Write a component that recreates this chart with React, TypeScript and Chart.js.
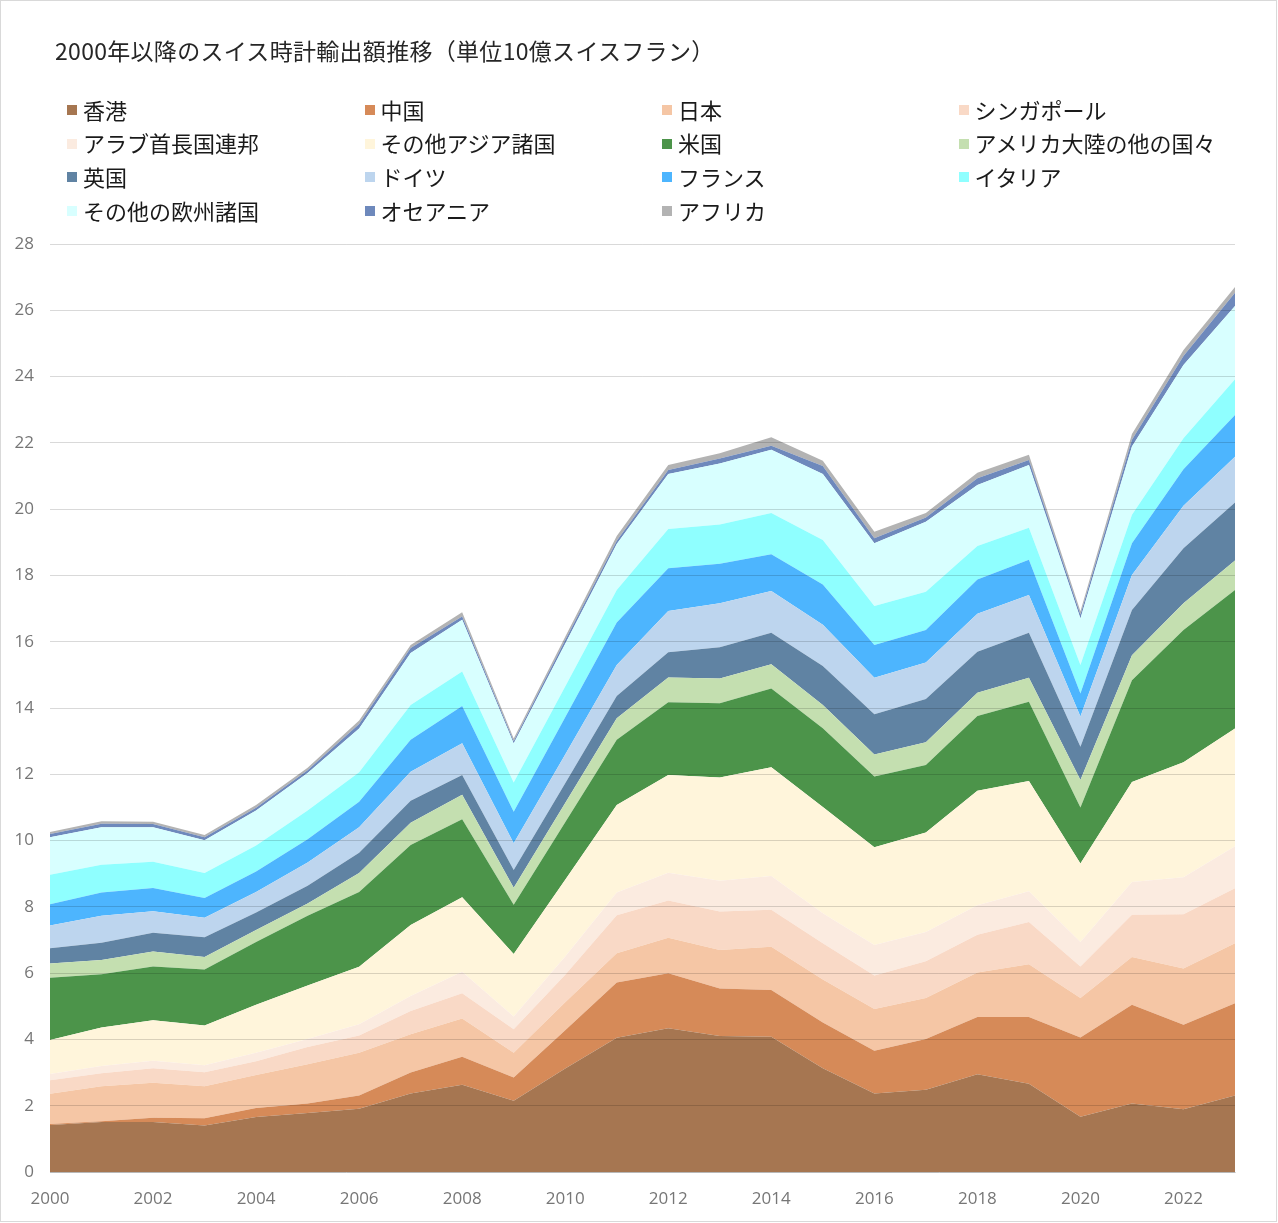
import React, { useEffect, useRef } from "react";
import { Chart, registerables } from "chart.js";

Chart.register(...registerables);

const chartTitle = "2000年以降のスイス時計輸出額推移（単位10億スイスフラン）";

const years = [
  "2000", "2001", "2002", "2003", "2004", "2005", "2006", "2007",
  "2008", "2009", "2010", "2011", "2012", "2013", "2014", "2015",
  "2016", "2017", "2018", "2019", "2020", "2021", "2022", "2023",
];

const xTickYears = ["2000", "2002", "2004", "2006", "2008", "2010", "2012", "2014", "2016", "2018", "2020", "2022"];

const seriesLabels = [
  "香港", "中国", "日本", "シンガポール",
  "アラブ首長国連邦", "その他アジア諸国", "米国", "アメリカ大陸の他の国々",
  "英国", "ドイツ", "フランス", "イタリア",
  "その他の欧州諸国", "オセアニア", "アフリカ",
];

const seriesColors = [
  "#A67651", "#D68A58", "#F5C6A5", "#F9D9C6",
  "#FBEBE0", "#FFF5DB", "#4C944A", "#C4DFB0",
  "#6083A3", "#BDD5EE", "#4DB5FE", "#8FFFFF",
  "#D8FFFF", "#6E89BC", "#B3B3B3",
];

const hongKong = [1.42, 1.51, 1.51, 1.40, 1.66, 1.78, 1.91, 2.37, 2.63, 2.15, 3.12, 4.05, 4.34, 4.10, 4.08, 3.13, 2.37, 2.48, 2.95, 2.66, 1.67, 2.07, 1.89, 2.31];
const china = [0.03, 0.02, 0.13, 0.22, 0.27, 0.29, 0.40, 0.63, 0.85, 0.70, 1.16, 1.67, 1.66, 1.44, 1.41, 1.38, 1.29, 1.53, 1.73, 2.02, 2.39, 2.98, 2.55, 2.78];
const japan = [0.91, 1.06, 1.05, 0.97, 1.00, 1.18, 1.29, 1.16, 1.15, 0.75, 0.84, 0.88, 1.07, 1.16, 1.31, 1.30, 1.26, 1.24, 1.34, 1.59, 1.19, 1.44, 1.70, 1.81];
const singapore = [0.41, 0.39, 0.44, 0.42, 0.41, 0.52, 0.52, 0.70, 0.76, 0.71, 0.83, 1.15, 1.12, 1.16, 1.11, 1.09, 1.01, 1.11, 1.14, 1.27, 0.95, 1.27, 1.64, 1.66];
const uae = [0.19, 0.22, 0.23, 0.21, 0.26, 0.24, 0.34, 0.45, 0.65, 0.38, 0.55, 0.68, 0.84, 0.93, 1.02, 0.91, 0.92, 0.88, 0.89, 0.93, 0.74, 0.99, 1.11, 1.27];
const otherAsia = [1.02, 1.16, 1.22, 1.20, 1.45, 1.62, 1.73, 2.14, 2.25, 1.89, 2.32, 2.64, 2.95, 3.11, 3.28, 3.20, 2.95, 3.00, 3.45, 3.33, 2.37, 3.02, 3.47, 3.55];
const usa = [1.88, 1.61, 1.62, 1.69, 1.89, 2.10, 2.26, 2.42, 2.35, 1.48, 1.73, 1.97, 2.19, 2.24, 2.38, 2.38, 2.13, 2.04, 2.26, 2.39, 1.69, 3.07, 3.99, 4.18];
const otherAmericas = [0.43, 0.43, 0.45, 0.38, 0.36, 0.37, 0.57, 0.67, 0.74, 0.52, 0.58, 0.65, 0.75, 0.75, 0.73, 0.70, 0.67, 0.69, 0.70, 0.72, 0.83, 0.75, 0.81, 0.89];
const uk = [0.46, 0.52, 0.57, 0.59, 0.53, 0.54, 0.61, 0.66, 0.60, 0.53, 0.60, 0.67, 0.76, 0.94, 0.95, 1.18, 1.21, 1.30, 1.24, 1.36, 1.00, 1.37, 1.66, 1.75];
const germany = [0.69, 0.81, 0.65, 0.59, 0.62, 0.70, 0.77, 0.88, 0.96, 0.81, 0.87, 0.94, 1.25, 1.33, 1.26, 1.24, 1.10, 1.10, 1.14, 1.14, 0.91, 1.05, 1.28, 1.38];
const france = [0.64, 0.70, 0.70, 0.60, 0.62, 0.70, 0.77, 0.96, 1.12, 0.95, 1.12, 1.28, 1.29, 1.19, 1.11, 1.22, 0.99, 0.98, 1.04, 1.06, 0.70, 0.96, 1.10, 1.26];
const italy = [0.89, 0.84, 0.79, 0.75, 0.78, 0.87, 0.89, 1.05, 1.04, 0.88, 0.93, 0.98, 1.18, 1.19, 1.24, 1.34, 1.18, 1.16, 1.01, 0.97, 0.86, 0.86, 0.94, 1.08];
const otherEurope = [1.13, 1.13, 1.04, 0.99, 1.06, 1.13, 1.32, 1.57, 1.56, 1.18, 1.29, 1.39, 1.66, 1.84, 1.91, 1.99, 1.89, 2.11, 1.84, 1.89, 1.40, 2.06, 2.21, 2.21];
const oceania = [0.10, 0.11, 0.10, 0.09, 0.08, 0.08, 0.14, 0.15, 0.10, 0.07, 0.11, 0.10, 0.12, 0.15, 0.12, 0.24, 0.15, 0.13, 0.20, 0.15, 0.12, 0.20, 0.27, 0.40];
const africa = [0.06, 0.07, 0.07, 0.07, 0.08, 0.08, 0.10, 0.09, 0.13, 0.08, 0.10, 0.14, 0.15, 0.16, 0.26, 0.16, 0.20, 0.13, 0.17, 0.16, 0.10, 0.18, 0.18, 0.17];

const seriesValues = [
  hongKong, china, japan, singapore, uae, otherAsia, usa, otherAmericas,
  uk, germany, france, italy, otherEurope, oceania, africa,
];

const yMin = 0;
const yMax = 28;
const yStep = 2;

const W = 1278;
const H = 1223;
const legendCols = [67, 364.5, 662, 958.5];
const legendRows = [108.5, 142, 175.5, 209.5];

export default function App() {
  const ref = useRef<HTMLCanvasElement | null>(null);

  useEffect(() => {
    document.body.style.margin = "0";
    if (!ref.current) return;
    const tickFont = { family: "'Open Sans', 'Noto Sans', sans-serif", size: 17 };
    const chart = new Chart(ref.current, {
      type: "line",
      data: {
        labels: years,
        datasets: seriesLabels.map((label, i) => ({
          label,
          data: seriesValues[i],
          backgroundColor: seriesColors[i],
          borderColor: seriesColors[i],
          borderWidth: 0,
          fill: i === 0 ? "origin" : "-1",
          pointRadius: 0,
          pointHoverRadius: 0,
          tension: 0,
        })),
      },
      options: {
        animation: false,
        responsive: false,
        devicePixelRatio: 1,
        events: [],
        layout: { padding: { top: 244, right: 43, bottom: 0, left: 0 } },
        plugins: {
          legend: { display: false },
          title: { display: false },
          tooltip: { enabled: false },
        },
        scales: {
          x: {
            type: "category",
            offset: false,
            z: 1,
            grid: { display: false, drawTicks: false },
            border: { display: true, color: "#d9d9d9", width: 1 },
            ticks: {
              autoSkip: false,
              maxRotation: 0,
              minRotation: 0,
              padding: 17,
              color: "#767676",
              font: tickFont,
              callback: (_v: any, i: number) => (xTickYears.includes(years[i]) ? years[i] : ""),
            },
            afterFit: (s: any) => {
              s.height = 51;
            },
          },
          y: {
            stacked: true,
            min: yMin,
            max: yMax,
            grid: { color: "rgba(0,0,0,0.15)", lineWidth: 1, z: 1, drawTicks: false },
            border: { display: false },
            ticks: {
              stepSize: yStep,
              padding: 16,
              color: "#767676",
              font: tickFont,
            },
            afterFit: (s: any) => {
              s.width = 50;
            },
          },
        },
      },
    });
    return () => chart.destroy();
  }, []);

  return (
    <div style={{ position: "relative", width: W, height: H, background: "#fff", overflow: "hidden" }}>
      <canvas ref={ref} width={W} height={H} style={{ position: "absolute", left: 0, top: 0, width: W, height: H }} />
      <div
        style={{
          position: "absolute",
          left: 55,
          top: 36,
          fontFamily: "'Noto Sans CJK JP', sans-serif",
          fontSize: 23,
          letterSpacing: 0.3,
          lineHeight: "28px",
          color: "#262626",
          whiteSpace: "nowrap",
        }}
      >
        {chartTitle}
      </div>
      {seriesLabels.map((label, i) => {
        const col = i % 4;
        const row = Math.floor(i / 4);
        return (
          <div
            key={label}
            style={{
              position: "absolute",
              left: legendCols[col],
              top: legendRows[row] - 13,
              height: 26,
              display: "flex",
              alignItems: "center",
              whiteSpace: "nowrap",
              fontFamily: "'Noto Sans CJK JP', sans-serif",
              fontSize: 22,
              color: "#1a1a1a",
            }}
          >
            <span style={{ display: "inline-block", width: 10, height: 10, background: seriesColors[i], marginRight: 6, marginTop: 3 }} />
            <span>{label}</span>
          </div>
        );
      })}
      <div
        style={{
          position: "absolute",
          left: 0,
          top: 0,
          width: W - 1,
          height: H - 1,
          boxSizing: "border-box",
          border: "1px solid #d9d9d9",
          pointerEvents: "none",
        }}
      />
    </div>
  );
}
